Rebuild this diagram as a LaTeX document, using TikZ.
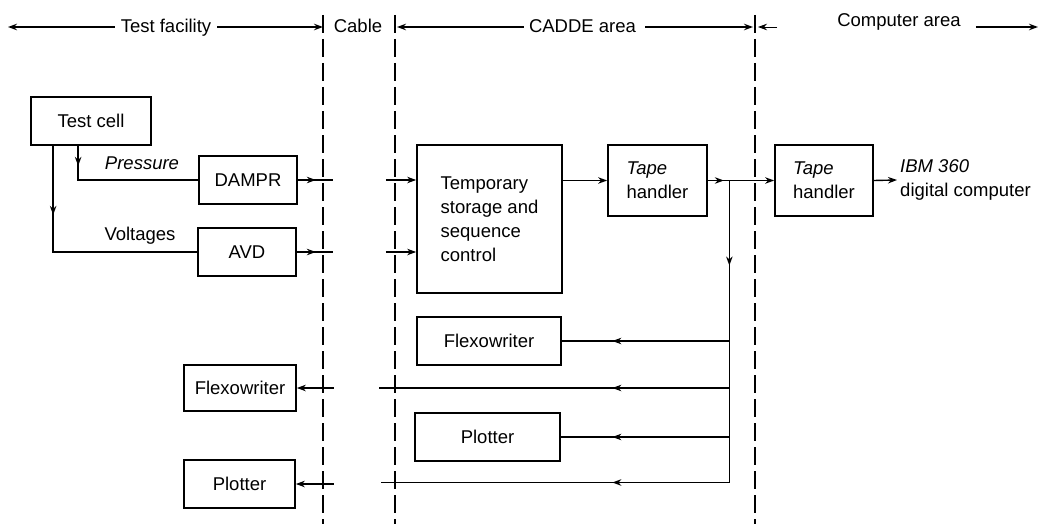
\documentclass[tikz,border=0pt]{standalone}
\usepackage{fontspec}
\setmainfont{Liberation Sans}
\usetikzlibrary{arrows.meta,calc}
\begin{document}
\begin{tikzpicture}[x=1pt,y=-1pt,
  box/.style={draw,line width=1.7pt,inner sep=0pt,align=center},
  conn/.style={line width=1.4pt},
  tip/.style={conn,-{Stealth[length=9pt,width=6.5pt]}},
  divider/.style={line width=1.3pt,dash pattern=on 18pt off 6pt},
  lbl/.style={inner sep=0pt,anchor=base},
  font=\fontsize{18.5}{24}\selectfont]
\fill[white] (0,0) rectangle (1043,524);
\useasboundingbox (0,0) rectangle (1043,524);

% area dividers
\draw[divider] (323,15) -- (323,524);
\draw[divider] (395,15) -- (395,524);
\draw[divider] (755,15) -- (755,524);

% header
\node[lbl] (tfac) at (166,33) {Test facility};
\node[lbl] (cable) at (358,33) {Cable};
\node[lbl] (cadde) at (582.5,33) {CADDE area};
\node[lbl] (comp) at (899,27) {Computer area};
\coordinate (h1) at (8,27);
\coordinate (h2) at (323,27);
\coordinate (h3) at (397,27);
\coordinate (h4) at (753,27);
\coordinate (h5) at (758,27);
\coordinate (h6) at (1038,27);
\draw[tip] (tfac.west |- h1) ++(-6,0) -- (h1);
\draw[tip] (tfac.east |- h2) ++(6,0) -- (h2);
\draw[tip] (cadde.west |- h3) ++(-5,0) -- (h3);
\draw[tip] (cadde.east |- h4) ++(9,0) -- (h4);
\draw[tip,line width=0.8pt] (h5) ++(19,0) -- (h5);
\draw[tip] (comp.east |- h6) ++(15,0) -- (h6);

% boxes
\node[box,minimum width=120pt,minimum height=48pt] (cell) at (91,121) {Test cell};
\node[box,minimum width=98pt,minimum height=48pt] (dampr) at (248,180) {DAMPR};
\node[box,minimum width=98pt,minimum height=48pt] (avd) at (247,252) {AVD};
\node[box,minimum width=145pt,minimum height=148pt,align=left] (temp) at (489.5,219) {Temporary\\storage and\\sequence\\control};
\node[box,minimum width=99pt,minimum height=71pt,align=left] (tape1) at (657.5,180.5) {\textit{Tape}\\handler};
\node[box,minimum width=98pt,minimum height=71pt,align=left] (tape2) at (824,180.5) {\textit{Tape}\\handler};
\node[inner sep=0pt,inner xsep=3pt,anchor=west,align=left] (ibm) at (897,180) {\textit{IBM 360}\\digital computer};
\node[box,minimum width=144pt,minimum height=48pt] (flexo) at (489,341) {Flexowriter};
\node[box,minimum width=145pt,minimum height=48pt] (plot) at (487.5,437) {Plotter};
\node[box,minimum width=112pt,minimum height=46pt] (lflexo) at (240,388) {Flexowriter};
\node[box,minimum width=111pt,minimum height=48pt] (lplot) at (239.5,484) {Plotter};

% labels
\node[lbl] (press) at (142,169) {\textit{Pressure}};
\node[lbl] (volt) at (140,240) {Voltages};

% test cell to recorders
\coordinate (pv) at ($(cell.south west)+(48,0)$);
\coordinate (vv) at ($(cell.south west)+(23,0)$);
\draw[conn] (pv) |- (dampr.west);
\draw[tip] (pv) -- ++(0,20);
\draw[conn] (vv) |- (avd.west);
\draw[tip] (vv) -- ++(0,69);

% across the cable
\draw[conn] (dampr.east) -- ++(35,0);
\draw[tip] (dampr.east) -- ++(18,0);
\coordinate (d2) at ($(dampr.east)+(88,0)$);
\draw[tip] (d2) -- (d2 -| temp.west);
\draw[conn] (avd.east) -- ++(36,0);
\draw[tip] (avd.east) -- ++(19,0);
\coordinate (a2) at ($(avd.east)+(89,0)$);
\draw[tip] (a2) -- (a2 -| temp.west);

% CADDE chain
\draw[tip] (tape1.west -| temp.east) -- (tape1.west);
\draw[tip] (tape1.east) -- (tape2.west);
\draw[tip] (tape1.east) -- ++(16,0);
\draw[tip] (tape2.east) -- (ibm.west);

% distribution bus
\coordinate (j) at ($(tape1.east)+(21.5,0)$);
\coordinate (jb) at ($(j)+(0,302)$);
\draw[conn] (j) -- (jb);
\draw[tip] (j) -- ++(0,85);

\draw[conn] (j |- flexo.east) -- (flexo.east);
\draw[tip] (j |- flexo.east) -- ++(-117,0);
\draw[conn] (j |- plot.east) -- (plot.east);
\draw[tip] (j |- plot.east) -- ++(-117,0);

\draw[conn] (j |- lflexo.east) -- ++(-350,0);
\draw[tip] (j |- lflexo.east) -- ++(-117,0);
\coordinate (f2) at ($(lflexo.east)+(37,0)$);
\draw[tip] (f2) -- (lflexo.east);

\draw[conn] (jb) -- ++(-348,0);
\draw[tip] (jb) -- ++(-117,0);
\coordinate (p2) at ($(lplot.east)+(38,0)$);
\draw[tip] (p2) -- (lplot.east);
\end{tikzpicture}
\end{document}
